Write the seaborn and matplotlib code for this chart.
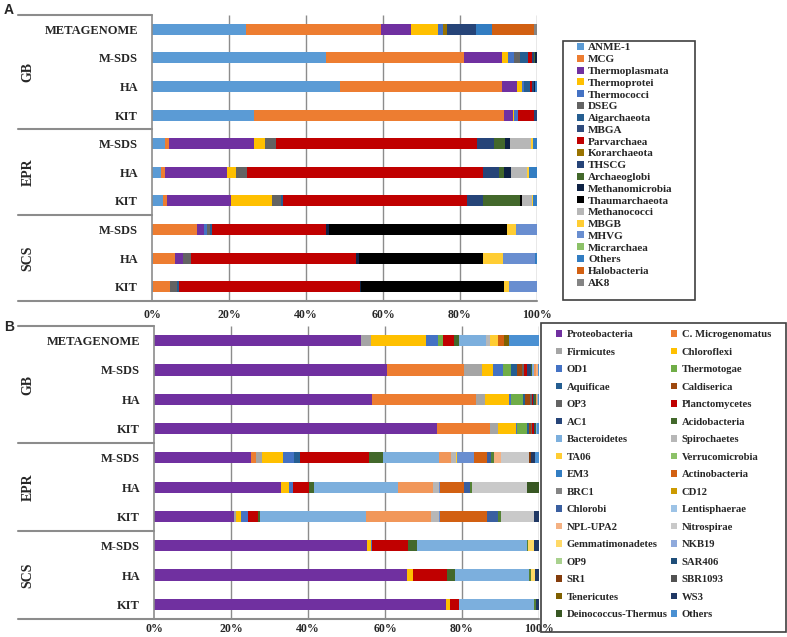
import matplotlib
matplotlib.use("Agg")
import matplotlib.pyplot as plt
import matplotlib.transforms as mtransforms
from matplotlib.patches import Patch, Rectangle
import seaborn as sns
import pandas as pd

# rows of both panels (top to bottom)
samples = ["METAGENOME", "M-SDS", "HA", "KIT", "M-SDS", "HA", "KIT", "M-SDS", "HA", "KIT"]
sites = ["GB"] * 4 + ["EPR"] * 3 + ["SCS"] * 3
row_ids = [s + "|" + n for s, n in zip(sites, samples)]
xticks = [0, 20, 40, 60, 80, 100]
xtick_labels = ["0%", "20%", "40%", "60%", "80%", "100%"]

# ---- panel A, archaea (% of reads) ----
anme1 = [24.4, 45.2, 48.9, 26.6, 3.5, 2.4, 2.9, 0.0, 0.3, 0.3]
mcg = [35.2, 35.9, 42.0, 64.8, 0.9, 1.0, 1.1, 11.8, 5.8, 4.4]
thermoplasmata = [7.6, 9.8, 4.0, 2.3, 22.1, 16.0, 16.5, 1.6, 2.0, 0.0]
thermoprotei = [7.1, 1.6, 1.1, 0.3, 2.8, 2.4, 10.7, 0.0, 0.0, 0.0]
thermococci = [1.3, 1.5, 0.5, 1.1, 0.0, 0.0, 0.0, 0.9, 0.0, 0.0]
dseg = [0.0, 1.6, 0.0, 0.0, 2.8, 3.0, 2.2, 0.7, 1.9, 1.7]
aigarchaeota = [0.0, 2.0, 1.6, 0.0, 0.0, 0.0, 0.5, 0.7, 0.0, 0.6]
mbga = [0.0, 0.0, 0.0, 0.0, 0.0, 0.0, 0.0, 0.0, 0.0, 0.0]
parvarchaea = [0.0, 1.0, 0.7, 4.0, 52.4, 61.1, 48.0, 29.5, 42.9, 47.0]
korarchaeota = [1.1, 0.0, 0.0, 0.0, 0.0, 0.0, 0.0, 0.0, 0.0, 0.0]
thscg = [7.4, 0.6, 0.5, 0.9, 4.3, 4.2, 4.0, 0.0, 0.0, 0.0]
archaeoglobi = [0.0, 0.3, 0.0, 0.0, 2.9, 1.4, 9.8, 0.0, 0.0, 0.0]
methanomicrobia = [0.0, 0.5, 0.3, 0.0, 1.3, 1.7, 0.0, 0.8, 0.8, 0.4]
thaumarchaeota = [0.0, 0.0, 0.0, 0.0, 0.0, 0.0, 0.5, 46.3, 32.3, 37.1]
methanococci = [0.0, 0.0, 0.0, 0.0, 5.4, 4.2, 2.5, 0.0, 0.0, 0.0]
mbgb = [0.0, 0.0, 0.0, 0.0, 0.5, 0.4, 0.3, 2.3, 5.2, 1.2]
mhvg = [0.0, 0.0, 0.0, 0.0, 0.0, 0.0, 0.0, 5.4, 8.3, 7.3]
micrarchaea = [0.0, 0.0, 0.0, 0.0, 0.0, 0.0, 0.0, 0.0, 0.0, 0.0]
others_a = [4.2, 0.0, 0.4, 0.0, 1.1, 2.2, 1.0, 0.0, 0.5, 0.0]
halobacteria = [10.8, 0.0, 0.0, 0.0, 0.0, 0.0, 0.0, 0.0, 0.0, 0.0]
ak8 = [0.9, 0.0, 0.0, 0.0, 0.0, 0.0, 0.0, 0.0, 0.0, 0.0]

archaea = [("ANME-1", anme1), ("MCG", mcg), ("Thermoplasmata", thermoplasmata),
           ("Thermoprotei", thermoprotei), ("Thermococci", thermococci), ("DSEG", dseg),
           ("Aigarchaeota", aigarchaeota), ("MBGA", mbga), ("Parvarchaea", parvarchaea),
           ("Korarchaeota", korarchaeota), ("THSCG", thscg), ("Archaeoglobi", archaeoglobi),
           ("Methanomicrobia", methanomicrobia), ("Thaumarchaeota", thaumarchaeota),
           ("Methanococci", methanococci), ("MBGB", mbgb), ("MHVG", mhvg),
           ("Micrarchaea", micrarchaea), ("Others", others_a), ("Halobacteria", halobacteria),
           ("AK8", ak8)]

# ---- panel B, bacteria (% of reads); "_" names are not in the legend ----
proteobacteria = [53.7, 60.5, 56.5, 73.5, 25.3, 33.1, 20.9, 55.3, 65.7, 75.8]
microgenomatus = [0.0, 20.1, 27.1, 13.7, 1.2, 0.0, 0.0, 0.0, 0.0, 0.0]
firmicutes = [2.6, 4.6, 2.5, 2.1, 1.5, 0.0, 0.5, 0.0, 0.0, 0.0]
chloroflexi = [14.4, 2.9, 6.0, 4.6, 5.6, 1.9, 1.3, 1.0, 1.5, 1.0]
od1 = [3.1, 2.5, 0.7, 0.5, 2.8, 1.1, 1.6, 0.2, 0.2, 0.0]
thermotogae = [1.3, 2.2, 3.1, 2.6, 0.0, 0.0, 0.0, 0.0, 0.0, 0.0]
aquificae = [0.0, 1.6, 0.5, 0.4, 1.4, 0.0, 0.0, 0.0, 0.0, 0.0]
caldiserica = [0.0, 1.2, 1.2, 0.5, 0.0, 0.0, 0.0, 0.0, 0.0, 0.0]
op3 = [0.0, 0.5, 0.5, 0.3, 0.0, 0.0, 0.0, 0.0, 0.0, 0.0]
planctomycetes = [2.8, 0.9, 0.4, 0.5, 18.1, 4.2, 2.8, 9.6, 8.8, 2.3]
ac1 = [0.0, 0.9, 0.3, 0.3, 0.0, 0.0, 0.0, 0.0, 0.0, 0.0]
acidobacteria = [1.2, 0.4, 0.3, 0.2, 3.5, 1.2, 0.5, 2.3, 2.0, 0.2]
bacteroidetes = [7.2, 0.3, 0.2, 0.2, 14.6, 21.8, 27.5, 28.4, 19.3, 19.5]
unlisted1 = [0.0, 0.5, 0.2, 0.0, 3.1, 9.2, 16.9, 0.0, 0.0, 0.0]
spirochaetes = [1.1, 0.2, 0.2, 0.2, 1.4, 1.5, 1.9, 0.0, 0.0, 0.0]
ta06 = [1.9, 0.0, 0.0, 0.0, 0.3, 0.0, 0.0, 0.0, 0.0, 0.0]
unlisted2 = [0.0, 0.0, 0.0, 0.0, 4.4, 0.2, 0.3, 0.0, 0.0, 0.0]
verrucomicrobia = [0.0, 0.0, 0.0, 0.0, 0.0, 0.0, 0.0, 0.0, 0.0, 0.0]
em3 = [0.0, 0.0, 0.0, 0.0, 0.0, 0.0, 0.0, 0.0, 0.0, 0.0]
actinobacteria = [1.6, 0.0, 0.0, 0.0, 3.4, 6.2, 12.2, 0.0, 0.0, 0.0]
brc1 = [0.0, 0.0, 0.0, 0.0, 0.0, 0.0, 0.0, 0.0, 0.0, 0.0]
cd12 = [0.0, 0.0, 0.0, 0.0, 0.0, 0.0, 0.0, 0.0, 0.0, 0.0]
chlorobi = [0.0, 0.0, 0.0, 0.0, 0.9, 1.8, 2.9, 0.0, 0.0, 0.0]
unlisted3 = [0.0, 0.0, 0.0, 0.0, 0.7, 0.5, 0.7, 0.4, 0.5, 0.3]
lentisphaerae = [0.0, 0.0, 0.0, 0.0, 0.0, 0.0, 0.0, 0.0, 0.0, 0.0]
npl_upa2 = [0.0, 0.4, 0.0, 0.0, 2.0, 0.0, 0.0, 0.0, 0.0, 0.0]
nitrospirae = [0.0, 0.0, 0.0, 0.0, 7.1, 14.3, 8.7, 0.0, 0.0, 0.0]
gemmatimonadetes = [0.0, 0.0, 0.0, 0.0, 0.0, 0.0, 0.0, 1.6, 1.0, 0.0]
nkb19 = [0.0, 0.0, 0.0, 0.0, 0.0, 0.0, 0.0, 0.0, 0.0, 0.0]
op9 = [0.0, 0.0, 0.0, 0.0, 0.0, 0.0, 0.0, 0.0, 0.0, 0.0]
sar406 = [0.0, 0.0, 0.0, 0.0, 0.0, 0.0, 0.0, 0.0, 0.0, 0.0]
sr1 = [0.0, 0.0, 0.0, 0.0, 0.7, 0.0, 0.0, 0.0, 0.0, 0.0]
sbr1093 = [0.0, 0.0, 0.0, 0.0, 0.0, 0.0, 0.0, 0.0, 0.0, 0.0]
tenericutes = [1.2, 0.0, 0.0, 0.0, 0.0, 0.0, 0.0, 0.0, 0.0, 0.0]
ws3 = [0.0, 0.0, 0.0, 0.0, 0.9, 0.0, 1.3, 1.2, 1.0, 0.9]
deinococcus = [0.0, 0.0, 0.0, 0.0, 0.0, 3.0, 0.0, 0.0, 0.0, 0.0]
others_b = [7.9, 0.3, 0.3, 0.4, 1.1, 0.0, 0.0, 0.0, 0.0, 0.0]

bacteria = [("Proteobacteria", proteobacteria), ("C. Microgenomatus", microgenomatus),
            ("Firmicutes", firmicutes), ("Chloroflexi", chloroflexi), ("OD1", od1),
            ("Thermotogae", thermotogae), ("Aquificae", aquificae), ("Caldiserica", caldiserica),
            ("OP3", op3), ("Planctomycetes", planctomycetes), ("AC1", ac1),
            ("Acidobacteria", acidobacteria), ("Bacteroidetes", bacteroidetes),
            ("_unlisted1", unlisted1), ("Spirochaetes", spirochaetes), ("TA06", ta06),
            ("_unlisted2", unlisted2), ("Verrucomicrobia", verrucomicrobia), ("EM3", em3),
            ("Actinobacteria", actinobacteria), ("BRC1", brc1), ("CD12", cd12),
            ("Chlorobi", chlorobi), ("_unlisted3", unlisted3), ("Lentisphaerae", lentisphaerae),
            ("NPL-UPA2", npl_upa2), ("Nitrospirae", nitrospirae),
            ("Gemmatimonadetes", gemmatimonadetes), ("NKB19", nkb19), ("OP9", op9),
            ("SAR406", sar406), ("SR1", sr1), ("SBR1093", sbr1093), ("Tenericutes", tenericutes),
            ("WS3", ws3), ("Deinococcus-Thermus", deinococcus), ("Others", others_b)]

colors_a = {"ANME-1": "#5B9BD5", "MCG": "#ED7D31", "Thermoplasmata": "#7030A0",
            "Thermoprotei": "#FFC000", "Thermococci": "#4472C4", "DSEG": "#636363",
            "Aigarchaeota": "#255E91", "MBGA": "#2F4B7C", "Parvarchaea": "#C00000",
            "Korarchaeota": "#997300", "THSCG": "#264478", "Archaeoglobi": "#43682B",
            "Methanomicrobia": "#0E2244", "Thaumarchaeota": "#000000", "Methanococci": "#B7B7B7",
            "MBGB": "#FFCD33", "MHVG": "#698ED0", "Micrarchaea": "#8CC168",
            "Others": "#327DC2", "Halobacteria": "#D26012", "AK8": "#848484"}

colors_b = {"Proteobacteria": "#7030A0", "C. Microgenomatus": "#ED7D31", "Firmicutes": "#A5A5A5",
            "Chloroflexi": "#FFC000", "OD1": "#4472C4", "Thermotogae": "#70AD47",
            "Aquificae": "#255E91", "Caldiserica": "#9E480E", "OP3": "#636363",
            "Planctomycetes": "#C00000", "AC1": "#264478", "Acidobacteria": "#43682B",
            "Bacteroidetes": "#7CAFDD", "_unlisted1": "#F1975A", "Spirochaetes": "#B7B7B7",
            "TA06": "#FFCD33", "_unlisted2": "#698ED0", "Verrucomicrobia": "#8CC168",
            "EM3": "#327DC2", "Actinobacteria": "#D26012", "BRC1": "#848484", "CD12": "#CC9A00",
            "Chlorobi": "#3A5FA0", "_unlisted3": "#548235", "Lentisphaerae": "#9DC3E6",
            "NPL-UPA2": "#F4B183", "Nitrospirae": "#C9C9C9", "Gemmatimonadetes": "#FFD966",
            "NKB19": "#8FAADC", "OP9": "#A9D18E", "SAR406": "#1F4E79", "SR1": "#843C0C",
            "SBR1093": "#525252", "Tenericutes": "#7F6000", "WS3": "#203864",
            "Deinococcus-Thermus": "#385723", "Others": "#4A90D2"}

sns.set_style("white")
plt.rcParams['font.family'] = ['Liberation Serif', 'DejaVu Serif']

W, H = 787, 637
fig = plt.figure(figsize=(W / 100, H / 100), dpi=100)
ax_a = fig.add_axes([152 / W, 1 - 301 / H, 385 / W, 286 / H])
ax_b = fig.add_axes([154 / W, 1 - 619 / H, 385 / W, 293 / H])

line_col = "#8c8c8c"


def stacked(ax, series, colors, label_x, xpad):
    df = pd.DataFrame({name: vals for name, vals in series}, index=row_ids)
    cum = df.cumsum(axis=1)
    # draw cumulative totals from the last taxon to the first so each one covers the rest
    for name in reversed(df.columns):
        d = pd.DataFrame({"row": row_ids, "value": cum[name].values})
        sns.barplot(data=d, x="value", y="row", order=row_ids, orient="h",
                    color=colors[name], saturation=1, width=0.38, linewidth=0,
                    errorbar=None, ax=ax)
    ax.set_xlim(0, 100)
    ax.set_ylim(9.5, -0.5)
    ax.set_xlabel("")
    ax.set_ylabel("")
    for sp in ax.spines.values():
        sp.set_visible(False)
    ax.vlines([20, 40, 60, 80, 100], -0.5, 9.5, color=line_col, lw=1, zorder=0.5)
    ax.set_xticks(xticks)
    ax.set_xticklabels(xtick_labels, fontweight="bold", fontsize=8.5)
    ax.set_yticks(range(len(samples)))
    ax.set_yticklabels(samples, fontweight="bold", fontsize=9)
    ax.tick_params(axis="both", length=0)
    ax.tick_params(axis="y", pad=10)
    ax.tick_params(axis="x", pad=xpad)

    tr = mtransforms.blended_transform_factory(ax.transAxes, ax.transData)
    for y in [-0.5, 3.5, 6.5]:
        ax.plot([label_x, 0], [y, y], transform=tr, clip_on=False, color=line_col, lw=1.5)
    ax.plot([label_x, 1], [9.5, 9.5], transform=tr, clip_on=False, color=line_col, lw=1.5)
    ax.plot([0, 0], [-0.5, 9.5], transform=tr, clip_on=False, color=line_col, lw=1.2)
    for site, yc in [("GB", 1.5), ("EPR", 5.0), ("SCS", 8.0)]:
        ax.text(label_x + 0.026, yc, site, transform=tr, rotation=90, ha="center", va="center",
                fontweight="bold", fontsize=10)


stacked(ax_a, archaea, colors_a, (18 - 152) / 385, 6)
stacked(ax_b, bacteria, colors_b, (18 - 154) / 385, 3)

fig.text(4 / W, 1 - 3 / H, "A", ha="left", va="top", fontsize=10, fontweight="bold",
         family="Liberation Sans")
fig.text(4 / W, 1 - 320 / H, "B", ha="left", va="top", fontsize=10, fontweight="bold",
         family="Liberation Sans")


def box(x0, y0, x1, y1):
    fig.patches.append(Rectangle((x0 / W, 1 - y1 / H), (x1 - x0) / W, (y1 - y0) / H,
                                 transform=fig.transFigure, fill=False,
                                 edgecolor="#404040", lw=1.2))


# legends (frame drawn separately, Excel-style box with extra room)
box(563, 41, 695, 300)
h_a = [Patch(facecolor=colors_a[n], edgecolor="none") for n, _ in archaea]
l_a = [n for n, _ in archaea]
fig.legend(h_a, l_a, loc="upper left", bbox_to_anchor=(577 / W, 1 - 43 / H),
           frameon=False, prop={"weight": "bold", "size": 8}, handlelength=0.6,
           handleheight=0.6, handletextpad=0.4, labelspacing=0.21, borderpad=0,
           borderaxespad=0)

box(541, 323, 786, 632)
shown = [n for n, _ in bacteria if not n.startswith("_")]
# matplotlib fills columns first; the reference legend reads across rows
order = shown[0::2] + shown[1::2]
h_b = [Patch(facecolor=colors_b[n], edgecolor="none") for n in order]
fig.legend(h_b, order, loc="upper left", bbox_to_anchor=(556 / W, 1 - 330 / H), ncol=2,
           frameon=False, prop={"weight": "bold", "size": 7.7}, handlelength=0.6,
           handleheight=0.6, handletextpad=0.4, labelspacing=0.78, columnspacing=0.3,
           borderpad=0, borderaxespad=0)

fig.savefig("out.png", dpi=100)
